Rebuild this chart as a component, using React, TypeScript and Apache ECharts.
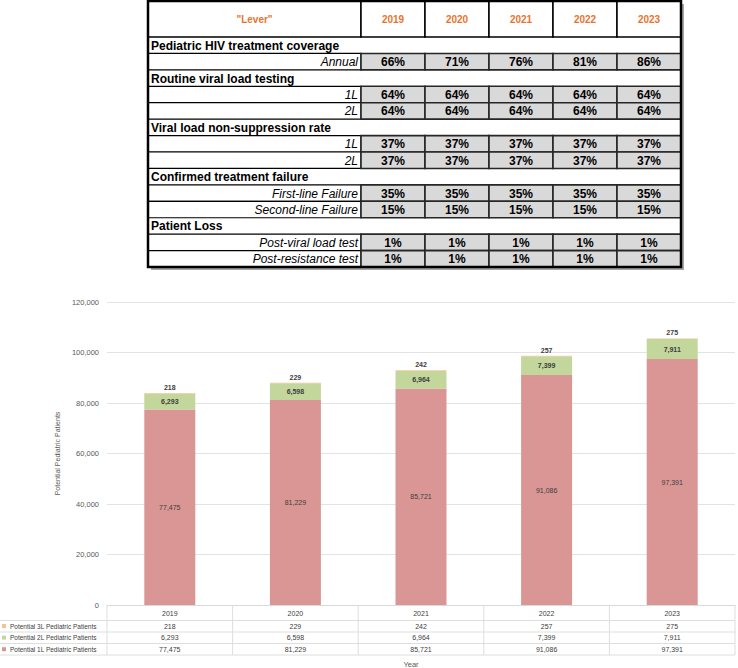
import React, { useEffect, useRef } from "react";
import * as echarts from "echarts";

// ---------- Chart data ----------
const years = ["2019", "2020", "2021", "2022", "2023"];
const patients1L = [77475, 81229, 85721, 91086, 97391];
const patients2L = [6293, 6598, 6964, 7399, 7911];
const patients3L = [218, 229, 242, 257, 275];
const name3L = "Potential 3L Pediatric Patients";
const name2L = "Potential 2L Pediatric Patients";
const name1L = "Potential 1L Pediatric Patients";
const yTitle = "Potential Pediatric Patients";
const xTitle = "Year";

// ---------- Lever table data ----------
const leverHeader = '"Lever"';
const tableYears = ["2019", "2020", "2021", "2022", "2023"];
const coverageAnnual = [66, 71, 76, 81, 86];
const vlTesting1L = [64, 64, 64, 64, 64];
const vlTesting2L = [64, 64, 64, 64, 64];
const nonSupp1L = [37, 37, 37, 37, 37];
const nonSupp2L = [37, 37, 37, 37, 37];
const failureFirst = [35, 35, 35, 35, 35];
const failureSecond = [15, 15, 15, 15, 15];
const lossPostVL = [1, 1, 1, 1, 1];
const lossPostRes = [1, 1, 1, 1, 1];

const sections = [
  { title: "Pediatric HIV treatment coverage", rows: [{ label: "Annual", values: coverageAnnual }] },
  {
    title: "Routine viral load testing",
    rows: [
      { label: "1L", values: vlTesting1L },
      { label: "2L", values: vlTesting2L },
    ],
  },
  {
    title: "Viral load non-suppression rate",
    rows: [
      { label: "1L", values: nonSupp1L },
      { label: "2L", values: nonSupp2L },
    ],
  },
  {
    title: "Confirmed treatment failure",
    rows: [
      { label: "First-line Failure", values: failureFirst },
      { label: "Second-line Failure", values: failureSecond },
    ],
  },
  {
    title: "Patient Loss",
    rows: [
      { label: "Post-viral load test", values: lossPostVL },
      { label: "Post-resistance test", values: lossPostRes },
    ],
  },
];

const FONT = "'Liberation Sans', Arial, sans-serif";
const C1 = "#d99694";
const C2 = "#c3d69b";
const C3 = "#fac090";
const fmt = (v: number) => v.toLocaleString("en-US");

const T = { left: 148, labelRight: 361, colW: 64, top: 1, headerH: 36, rowH: 16.43 };

function cell(x: number, y: number, w: number, h: number, fill: string, stroke: string, lw: number) {
  return { type: "rect", silent: true, shape: { x, y, width: w, height: h }, style: { fill, stroke, lineWidth: lw } };
}
function txt(text: string, x: number, y: number, opts: any) {
  return {
    type: "text",
    silent: true,
    style: {
      text,
      x,
      y,
      fontFamily: FONT,
      textVerticalAlign: "middle",
      verticalAlign: "middle",
      ...opts,
    },
  };
}

function leverTable() {
  const els: any[] = [];
  const right = T.labelRight + tableYears.length * T.colW;
  const totalRows = sections.reduce((n, s) => n + 1 + s.rows.length, 0);
  const bottom = T.top + T.headerH + totalRows * T.rowH;
  const w = right - T.left;
  const h = bottom - T.top;
  els.push({ type: "rect", silent: true, shape: { x: T.left + 3, y: T.top + 3, width: w, height: h }, style: { fill: "#a6a6a6" } });
  els.push({ type: "rect", silent: true, shape: { x: T.left, y: T.top, width: w, height: h }, style: { fill: "#ffffff" } });
  // header
  els.push(cell(T.left, T.top, T.labelRight - T.left, T.headerH, "#ffffff", "#000", 1.5));
  els.push(txt(leverHeader, (T.left + T.labelRight) / 2, T.top + T.headerH / 2, { fill: "#e8742e", fontSize: 10, fontWeight: "bold", textAlign: "center", align: "center" }));
  tableYears.forEach((yr, i) => {
    const x = T.labelRight + i * T.colW;
    els.push(cell(x, T.top, T.colW, T.headerH, "#ffffff", "#000", 1.5));
    els.push(txt(yr, x + T.colW / 2, T.top + T.headerH / 2, { fill: "#e8742e", fontSize: 10, fontWeight: "bold", textAlign: "center", align: "center" }));
  });
  let y = T.top + T.headerH;
  sections.forEach((s) => {
    els.push(txt(s.title, T.left + 3, y + T.rowH / 2 + 0.5, { fill: "#000", fontSize: 12, fontWeight: "bold", textAlign: "left", align: "left" }));
    y += T.rowH;
    s.rows.forEach((r) => {
      els.push(cell(T.left, y, T.labelRight - T.left, T.rowH, "#ffffff", "#000", 1.2));
      els.push(txt(r.label, T.labelRight - 3, y + T.rowH / 2 + 0.5, { fill: "#000", fontSize: 12, fontStyle: "italic", textAlign: "right", align: "right" }));
      r.values.forEach((v, i) => {
        const x = T.labelRight + i * T.colW;
        els.push(cell(x, y, T.colW, T.rowH, "#d9d9d9", "#262626", 1.6));
        els.push(txt(`${v}%`, x + T.colW / 2, y + T.rowH / 2 + 0.5, { fill: "#000", fontSize: 12, fontWeight: "bold", textAlign: "center", align: "center" }));
      });
      y += T.rowH;
    });
  });
  els.push({ type: "rect", silent: true, shape: { x: T.left, y: T.top, width: w, height: h }, style: { fill: "none", stroke: "#000", lineWidth: 2.5 } });
  return els;
}

export default function App() {
  const ref = useRef<HTMLDivElement>(null);
  useEffect(() => {
    const chart = echarts.init(ref.current!, null, { renderer: "svg" });
    const labelBase = { fontFamily: FONT, fontSize: 7, color: "#404040", formatter: (p: any) => fmt(p.value) };
    chart.setOption({
      animation: false,
      textStyle: { fontFamily: FONT },
      grid: { left: 107, top: 302, width: 628, height: 303, containLabel: false },
      legend: {
        data: [name3L, name2L, name1L],
        orient: "vertical",
        left: 2,
        top: 622,
        padding: 0,
        itemWidth: 4,
        itemHeight: 4,
        itemGap: 3.6,
        icon: "rect",
        selectedMode: false,
        textStyle: { fontFamily: FONT, fontSize: 6.5, lineHeight: 8, color: "#404040", padding: [0, 0, 0, -1] },
      },
      xAxis: {
        type: "category",
        data: years,
        axisLine: { lineStyle: { color: "#d9d9d9" } },
        axisTick: { show: false },
        axisLabel: { fontFamily: FONT, fontSize: 7, color: "#404040", margin: 5 },
      },
      yAxis: {
        type: "value",
        min: 0,
        max: 120000,
        interval: 20000,
        name: yTitle,
        nameLocation: "middle",
        nameGap: 35,
        nameTextStyle: { fontFamily: FONT, fontSize: 7, color: "#595959" },
        axisLine: { show: false },
        axisTick: { show: false },
        axisLabel: { fontFamily: FONT, fontSize: 7.5, color: "#595959", margin: 8, formatter: (v: number) => fmt(v) },
        splitLine: { lineStyle: { color: "#e3e3e3", width: 1 } },
      },
      series: [
        {
          name: name1L,
          type: "bar",
          stack: "p",
          data: patients1L,
          barWidth: 51,
          itemStyle: { color: C1 },
          label: { show: true, position: "inside", ...labelBase },
        },
        {
          name: name2L,
          type: "bar",
          stack: "p",
          data: patients2L,
          barWidth: 51,
          itemStyle: { color: C2 },
          label: { show: true, position: "inside", ...labelBase, fontWeight: "bold" },
        },
        {
          name: name3L,
          type: "bar",
          stack: "p",
          data: patients3L,
          barWidth: 51,
          itemStyle: { color: C3 },
          label: { show: true, position: "top", distance: 2, ...labelBase, fontWeight: "bold" },
        },
      ],
    });

    // data table under the chart, aligned on the category axis
    const cx = years.map((y) => chart.convertToPixel({ xAxisIndex: 0 }, y) as number);
    const band = cx[1] - cx[0];
    const yBase = chart.convertToPixel({ yAxisIndex: 0 }, 0) as number;
    const leftEdge = cx[0] - band / 2;
    const rightEdge = cx[cx.length - 1] + band / 2;
    const lineOffsets = [15.5, 27, 38.5, 50];
    const rowCenters = [21, 32.7, 44.5];
    const rowsData = [patients3L, patients2L, patients1L];
    const g: any[] = [...leverTable()];
    lineOffsets.forEach((o) => {
      g.push({ type: "line", silent: true, shape: { x1: 0, y1: yBase + o, x2: rightEdge, y2: yBase + o }, style: { stroke: "#dedede", lineWidth: 1 } });
    });
    for (let i = 0; i <= years.length; i++) {
      const x = leftEdge + i * band;
      g.push({ type: "line", silent: true, shape: { x1: x, y1: yBase, x2: x, y2: yBase + 50 }, style: { stroke: "#dedede", lineWidth: 1 } });
    }
    rowsData.forEach((arr, r) => {
      arr.forEach((v, i) => {
        g.push(txt(fmt(v), cx[i], yBase + rowCenters[r], { fill: "#404040", fontSize: 7, textAlign: "center", align: "center" }));
      });
    });
    g.push(txt(xTitle, 411, 664, { fill: "#595959", fontSize: 7.5, textAlign: "center", align: "center" }));
    chart.setOption({ graphic: g });

    return () => chart.dispose();
  }, []);
  return <div ref={ref} style={{ position: "absolute", left: 0, top: 0, width: 738, height: 668 }} />;
}
